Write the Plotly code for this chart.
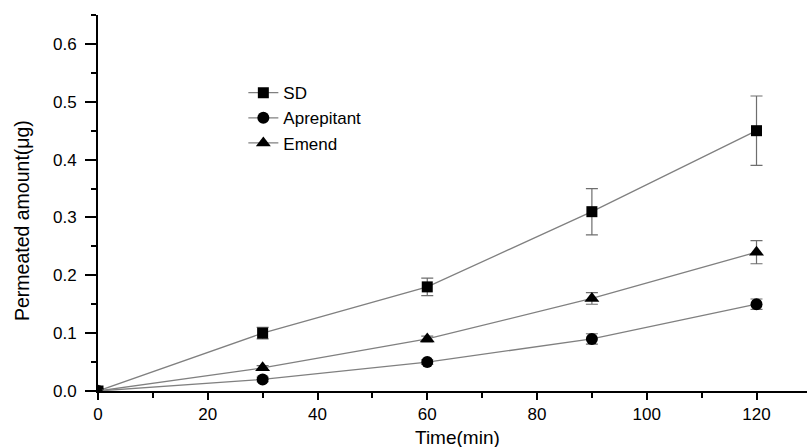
import plotly.graph_objects as go

time = [0, 30, 60, 90, 120]
sd = [0.0, 0.10, 0.18, 0.31, 0.45]
sd_err = [0.0, 0.01, 0.015, 0.04, 0.06]
aprepitant = [0.0, 0.02, 0.05, 0.09, 0.15]
aprepitant_err = [0.0, 0.004, 0.004, 0.009, 0.009]
emend = [0.0, 0.04, 0.09, 0.16, 0.24]
emend_err = [0.0, 0.004, 0.005, 0.01, 0.02]

series = [
    ("SD", sd, sd_err, "square", 11),
    ("Aprepitant", aprepitant, aprepitant_err, "circle", 12),
    ("Emend", emend, emend_err, "triangle-up", 13),
]

fig = go.Figure()
for name, vals, err, sym, sz in series:
    fig.add_trace(go.Scatter(
        x=time, y=vals, name=name, mode="lines+markers",
        line=dict(color="#808080", width=1.3),
        marker=dict(symbol=sym, color="black", size=sz),
        error_y=dict(type="data", array=err, visible=True, color="#6e6e6e",
                     thickness=1.2, width=6),
    ))

fig.update_layout(
    width=807, height=447,
    margin=dict(l=98, r=0, t=15, b=56),
    plot_bgcolor="white", paper_bgcolor="white",
    font=dict(family="Liberation Sans, Arial, sans-serif", color="black", size=16),
    showlegend=True,
    legend=dict(x=0.205, y=0.84, xanchor="left", yanchor="top",
                bgcolor="rgba(0,0,0,0)", font=dict(size=17),
                tracegroupgap=0, itemwidth=30),
    xaxis=dict(
        range=[0, 129.2], tickmode="array", tickvals=[0, 20, 40, 60, 80, 100, 120],
        showgrid=False, zeroline=False, showline=True, linecolor="black", linewidth=2,
        ticks="outside", ticklen=7, tickwidth=2, tickcolor="black",
        minor=dict(tickvals=[10, 30, 50, 70, 90, 110], ticks="outside", ticklen=5,
                   tickwidth=2, tickcolor="black"),
        tickfont=dict(size=17),
    ),
    yaxis=dict(
        range=[0, 0.65], tickmode="array", tickvals=[0, 0.1, 0.2, 0.3, 0.4, 0.5, 0.6],
        ticktext=["0.0", "0.1", "0.2", "0.3", "0.4", "0.5", "0.6"],
        showgrid=False, zeroline=False, showline=True, linecolor="black", linewidth=2,
        ticks="outside", ticklen=11, tickwidth=2, tickcolor="black",
        ticklabelstandoff=5,
        minor=dict(tickvals=[0.05, 0.15, 0.25, 0.35, 0.45, 0.55, 0.65], ticks="outside",
                   ticklen=5, tickwidth=2, tickcolor="black"),
        tickfont=dict(size=17),
    ),
    annotations=[
        dict(text="Permeated amount(\u03bcg)", textangle=-90, showarrow=False,
             xref="paper", yref="paper", x=0, xshift=-76, y=0.452,
             xanchor="center", yanchor="middle", font=dict(size=19.5)),
        dict(text="Time(min)", showarrow=False,
             xref="paper", yref="paper", x=0.5, xshift=5, y=0, yshift=-46,
             xanchor="center", yanchor="middle", font=dict(size=19)),
    ],
)

fig.write_html("out.html")
